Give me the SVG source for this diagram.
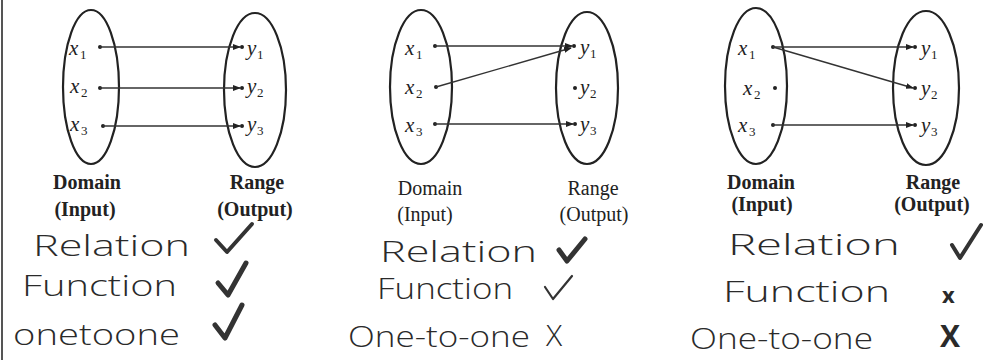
<svg xmlns="http://www.w3.org/2000/svg" width="983" height="360" viewBox="0 0 983 360">
<style>
.bg{fill:#fff}
.ell{fill:none;stroke:#222;stroke-width:2.2}
.var{font-family:"Liberation Serif",serif;font-style:italic;font-size:21px;fill:#222}
.sub{font-family:"Liberation Serif",serif;font-size:13px;fill:#222}
.lbl{font-family:"Liberation Serif",serif;font-size:20px;fill:#222;text-anchor:middle}
.lb{font-weight:bold}
.hw{font-family:"Open Sans","Lato",sans-serif;font-weight:300;font-size:30px;fill:#2a2a2a}
.xb{font-family:"Open Sans","Lato",sans-serif;font-weight:bold;fill:#2a2a2a}
.chk{fill:none;stroke:#333;stroke-linecap:round;stroke-linejoin:round}
.conn line{stroke:#333;stroke-width:1.4}
.dot{fill:#222}
</style>
<defs>
<marker id="ah" markerWidth="8" markerHeight="6" refX="7" refY="3" orient="auto" markerUnits="userSpaceOnUse">
<path d="M0,0 L8,3 L0,6 Z" fill="#222"/>
</marker>
</defs>
<rect class="bg" width="983" height="360"/>
<line x1="2" y1="0" x2="2" y2="360" stroke="#555" stroke-width="2"/>

<!-- Panel 1 -->
<g id="p1-domain">
<ellipse class="ell" cx="91" cy="87" rx="28" ry="77"/>
<text class="var" x="69" y="55">x</text><text class="sub" x="80" y="59">1</text>
<text class="var" x="70" y="93">x</text><text class="sub" x="81" y="97">2</text>
<text class="var" x="70" y="131">x</text><text class="sub" x="81" y="135">3</text>
<circle class="dot" cx="100" cy="47" r="2"/><circle class="dot" cx="100" cy="88" r="2"/><circle class="dot" cx="103" cy="126" r="2"/>
<text class="lbl lb" x="87" y="189">Domain</text>
<text class="lbl lb" x="85" y="216">(Input)</text>
</g>
<g id="p1-range">
<ellipse class="ell" cx="255" cy="90" rx="31" ry="77"/>
<text class="var" x="247" y="55">y</text><text class="sub" x="257" y="59">1</text>
<text class="var" x="247" y="93">y</text><text class="sub" x="257" y="97">2</text>
<text class="var" x="247" y="131">y</text><text class="sub" x="257" y="135">3</text>
<circle class="dot" cx="242" cy="47" r="2"/><circle class="dot" cx="242" cy="88" r="2"/><circle class="dot" cx="242" cy="126" r="2"/>
<text class="lbl lb" x="257" y="189">Range</text>
<text class="lbl lb" x="255" y="216">(Output)</text>
</g>
<g id="p1-notes">
<text class="hw" x="33" y="256" textLength="157" lengthAdjust="spacingAndGlyphs">Relation</text>
<text class="hw" x="22" y="296" textLength="155" lengthAdjust="spacingAndGlyphs">Function</text>
<text class="hw" x="13" y="345" textLength="167" lengthAdjust="spacingAndGlyphs">onetoone</text>
<path class="chk" stroke-width="4" d="M216,240 L227,252 L252,224"/>
<path class="chk" stroke-width="5" d="M218,283 L228,295 L246,263"/>
<path class="chk" stroke-width="5" d="M215,325 L225,338 L242,305"/>
</g>

<!-- Panel 2 -->
<g id="p2-domain">
<ellipse class="ell" cx="421" cy="87" rx="31" ry="77"/>
<text class="var" x="405" y="55">x</text><text class="sub" x="416" y="59">1</text>
<text class="var" x="405" y="94">x</text><text class="sub" x="416" y="98">2</text>
<text class="var" x="405" y="132">x</text><text class="sub" x="416" y="136">3</text>
<circle class="dot" cx="435" cy="46" r="2"/><circle class="dot" cx="436" cy="87" r="2"/><circle class="dot" cx="435" cy="124" r="2"/>
<text class="lbl" x="430" y="195">Domain</text>
<text class="lbl" x="425" y="221">(Input)</text>
</g>
<g id="p2-range">
<ellipse class="ell" cx="587" cy="88" rx="31" ry="76"/>
<text class="var" x="580" y="54">y</text><text class="sub" x="590" y="58">1</text>
<text class="var" x="580" y="94">y</text><text class="sub" x="590" y="98">2</text>
<text class="var" x="580" y="131">y</text><text class="sub" x="590" y="135">3</text>
<circle class="dot" cx="574" cy="46" r="2"/><circle class="dot" cx="575" cy="88" r="2"/><circle class="dot" cx="575" cy="124" r="2"/>
<text class="lbl" x="593" y="195">Range</text>
<text class="lbl" x="594" y="221">(Output)</text>
</g>
<g id="p2-notes">
<text class="hw" x="380" y="262" textLength="157" lengthAdjust="spacingAndGlyphs">Relation</text>
<text class="hw" x="377" y="299" textLength="136" lengthAdjust="spacingAndGlyphs">Function</text>
<text class="hw" x="348" y="347" textLength="182" lengthAdjust="spacingAndGlyphs">One-to-one</text>
<path class="chk" stroke-width="5" d="M559,250 L567,261 L585,239"/>
<path class="chk" stroke-width="2.2" d="M545,287 L553,299 L572,276"/>
<text class="hw" x="546" y="346" font-size="30">X</text>
</g>

<!-- Panel 3 -->
<g id="p3-domain">
<ellipse class="ell" cx="756" cy="86" rx="31" ry="78"/>
<text class="var" x="738" y="55">x</text><text class="sub" x="749" y="59">1</text>
<text class="var" x="743" y="95">x</text><text class="sub" x="754" y="99">2</text>
<text class="var" x="738" y="132">x</text><text class="sub" x="749" y="136">3</text>
<circle class="dot" cx="773" cy="47" r="2"/><circle class="dot" cx="775" cy="88" r="2"/><circle class="dot" cx="773" cy="125" r="2"/>
<text class="lbl lb" x="761" y="189">Domain</text>
<text class="lbl lb" x="762" y="211">(Input)</text>
</g>
<g id="p3-range">
<ellipse class="ell" cx="926" cy="88" rx="33" ry="77"/>
<text class="var" x="921" y="55">y</text><text class="sub" x="931" y="59">1</text>
<text class="var" x="921" y="95">y</text><text class="sub" x="931" y="99">2</text>
<text class="var" x="921" y="132">y</text><text class="sub" x="931" y="136">3</text>
<circle class="dot" cx="915" cy="47" r="2"/><circle class="dot" cx="915" cy="88" r="2"/><circle class="dot" cx="915" cy="125" r="2"/>
<text class="lbl lb" x="933" y="189">Range</text>
<text class="lbl lb" x="932" y="211">(Output)</text>
</g>
<g id="p3-notes">
<text class="hw" x="728" y="255" textLength="172" lengthAdjust="spacingAndGlyphs">Relation</text>
<text class="hw" x="723" y="302" textLength="167" lengthAdjust="spacingAndGlyphs">Function</text>
<text class="hw" x="690" y="349" textLength="183" lengthAdjust="spacingAndGlyphs">One-to-one</text>
<path class="chk" stroke-width="4" d="M952,245 L960,258 L981,225"/>
<text class="xb" x="942" y="303" font-size="22">x</text>
<text class="xb" x="940" y="347" font-size="30">X</text>
</g>

<g id="connectors" class="conn">
<line x1="100" y1="47" x2="240" y2="47" marker-end="url(#ah)"/>
<line x1="100" y1="88" x2="240" y2="88" marker-end="url(#ah)"/>
<line x1="103" y1="126" x2="240" y2="126" marker-end="url(#ah)"/>
<line x1="435" y1="46" x2="572" y2="46" marker-end="url(#ah)"/>
<line x1="436" y1="87" x2="571" y2="48" marker-end="url(#ah)"/>
<line x1="435" y1="124" x2="573" y2="124" marker-end="url(#ah)"/>
<line x1="773" y1="47" x2="913" y2="47" marker-end="url(#ah)"/>
<line x1="773" y1="47" x2="913" y2="88" marker-end="url(#ah)"/>
<line x1="773" y1="125" x2="913" y2="125" marker-end="url(#ah)"/>
</g>
</svg>
